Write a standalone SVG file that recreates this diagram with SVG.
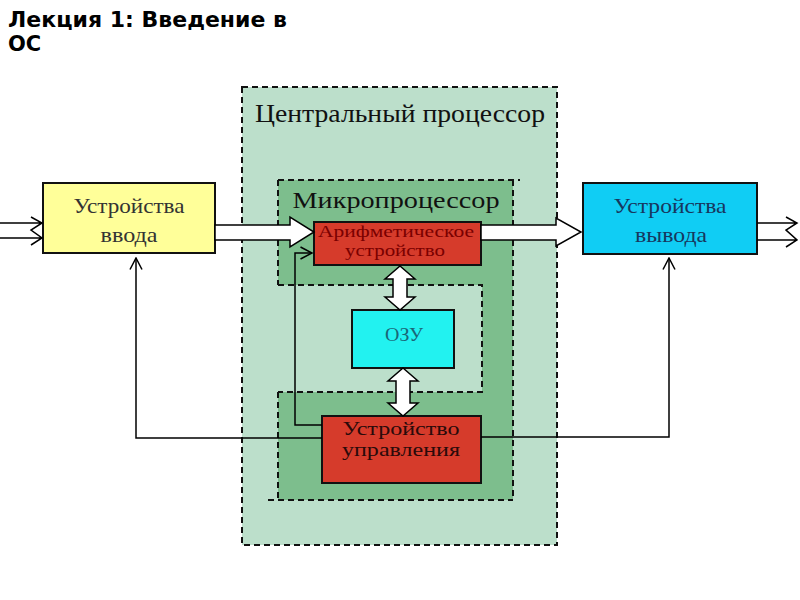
<svg xmlns="http://www.w3.org/2000/svg" width="800" height="600" viewBox="0 0 800 600">
<defs>
<marker id="open" markerUnits="userSpaceOnUse" markerWidth="14" markerHeight="14" viewBox="0 0 12 14" refX="11.5" refY="7" orient="auto">
<path d="M0,1 L11.5,7 L0,13" fill="none" stroke="#000" stroke-width="1.5"/>
</marker>
</defs>
<style>
.dash{fill:none;stroke:#111;stroke-width:2;stroke-dasharray:6,4}
.box{stroke:#111;stroke-width:2}
.serif{font-family:"Liberation Serif","DejaVu Serif",serif}
.thin{fill:none;stroke:#000;stroke-width:1.5}
.big{fill:#fff;stroke:#000;stroke-width:1.5;stroke-linejoin:miter}
.ttl{font-family:"DejaVu Sans","Liberation Sans",sans-serif;font-weight:bold;font-size:21px;fill:#000}
</style>
<rect width="800" height="600" fill="#fff"/>
<g id="title">
<text x="8" y="27" class="ttl" textLength="279" lengthAdjust="spacingAndGlyphs">Лекция 1: Введение в</text>
<text x="8" y="51" class="ttl">ОС</text>
</g>
<g id="cpu">
<rect x="242" y="87" width="315" height="458" fill="#bcdfcb"/>
<rect x="242" y="87" width="315" height="458" class="dash"/>
<text x="400" y="122" text-anchor="middle" class="serif" font-size="26" fill="#111" textLength="290" lengthAdjust="spacingAndGlyphs">Центральный процессор</text>
</g>
<g id="microprocessor">
<path d="M278,180 H513 V500 H278 V392 H482 V285 H278 Z" fill="#7dbe8d"/>
<path d="M278,180 H520 M513,180 V500 M268,500 H513 M278,180 V285 M278,392 V500 M278,285 H482 V392 H278" class="dash"/>
<text x="396" y="208" text-anchor="middle" class="serif" font-size="23" fill="#111" textLength="207" lengthAdjust="spacingAndGlyphs">Микропроцессор</text>
</g>
<g id="input">
<rect x="43" y="183" width="172" height="70" fill="#ffff99" class="box"/>
<text x="129" y="213" text-anchor="middle" class="serif" font-size="22" fill="#333" textLength="111" lengthAdjust="spacingAndGlyphs">Устройства</text>
<text x="129" y="242" text-anchor="middle" class="serif" font-size="22" fill="#333" textLength="57" lengthAdjust="spacingAndGlyphs">ввода</text>
</g>
<g id="output">
<rect x="583" y="183" width="174" height="71" fill="#10cdf4" class="box"/>
<text x="670" y="213" text-anchor="middle" class="serif" font-size="22" fill="#17375e" textLength="113" lengthAdjust="spacingAndGlyphs">Устройства</text>
<text x="671" y="242" text-anchor="middle" class="serif" font-size="22" fill="#17375e" textLength="72" lengthAdjust="spacingAndGlyphs">вывода</text>
</g>
<g id="alu">
<rect x="314" y="222" width="167" height="43" fill="#d63b2b" class="box"/>
<text x="396" y="237" text-anchor="middle" class="serif" font-size="17" fill="#7a0000" textLength="156" lengthAdjust="spacingAndGlyphs">Арифметическое</text>
<text x="395" y="256" text-anchor="middle" class="serif" font-size="17" fill="#7a0000" textLength="100" lengthAdjust="spacingAndGlyphs">устройство</text>
</g>
<g id="ozu">
<rect x="352" y="310" width="102" height="58" fill="#22f2f0" class="box"/>
<text x="404" y="341" text-anchor="middle" class="serif" font-size="19" fill="#1a6677" textLength="38" lengthAdjust="spacingAndGlyphs">ОЗУ</text>
</g>
<g id="control">
<rect x="322" y="416" width="159" height="67" fill="#d63b2b" class="box"/>
<text x="401" y="435" text-anchor="middle" class="serif" font-size="18.5" fill="#2a0a0a" textLength="117" lengthAdjust="spacingAndGlyphs">Устройство</text>
<text x="401" y="456" text-anchor="middle" class="serif" font-size="18.5" fill="#2a0a0a" textLength="118" lengthAdjust="spacingAndGlyphs">управления</text>
</g>
<g id="connectors">
<path d="M0,223 H42 M0,238 H42 M31,217 L42,223 L31,230 L42,238 L31,245" class="thin"/>
<path d="M757,223 H797 M757,240 H797 M786,217 L797,223 L786,230 L797,240 L786,247" class="thin"/>
<polygon points="215,225 290,225 290,217 314,232 290,247 290,240 215,240" class="big"/>
<polygon points="481,225 556,225 556,218 581,232 556,246 556,240 481,240" class="big"/>
<polygon points="400,266 415,279 407,279 407,297 415,297 400,310 385,297 393,297 393,279 385,279" class="big"/>
<polygon points="403,368 418,381 410,381 410,403 418,403 403,416 388,403 396,403 396,381 388,381" class="big"/>
<polyline points="322,438 136,438 136,258" class="thin" marker-end="url(#open)"/>
<polyline points="322,425 295,425 295,253 312,253" class="thin" marker-end="url(#open)"/>
<polyline points="481,437 669,437 669,258" class="thin" marker-end="url(#open)"/>
</g>
</svg>
